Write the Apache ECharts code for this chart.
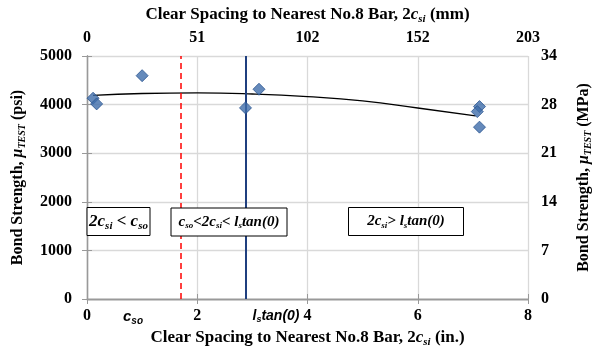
<!DOCTYPE html>
<html>
<head>
<meta charset="utf-8">
<script src="https://cdn.jsdelivr.net/npm/echarts@6/dist/echarts.min.js"></script>
<style>
  html, body { margin: 0; padding: 0; background: #fff; }
  #chart { width: 600px; height: 349px; }
</style>
</head>
<body>
<div id="chart"></div>
<script>
// Measured bond strength (psi) against clear spacing 2c_si (in.)
const spacingIn = [0.11, 0.175, 1.0, 2.875, 3.12, 7.12, 7.08, 7.12];
const bondPsi   = [4131, 4014, 4595, 3932, 4316, 3959, 3856, 3536];

// Fitted trend through the tests (in., psi)
const trendIn  = [0.11, 1.0, 2.0, 3.0, 4.0, 5.0, 6.0, 7.05];
const trendPsi = [4188, 4228, 4240, 4218, 4164, 4075, 3930, 3768];

// Limits: c_so (dashed) and l_s tan(θ) (solid), in inches
const csoIn = 1.70;
const lsTanIn = 2.875;

// Secondary tick labels (SI units)
const mmTicks  = ['0', '51', '102', '152', '203'];
const mpaTicks = ['0', '7', '14', '21', '28', '34'];

const serif = "'Liberation Serif', 'Times New Roman', serif";
const sans = "'Liberation Sans', Arial, sans-serif";

const subRich = {
  b: { fontFamily: serif, fontWeight: 'bold', fontSize: 17, color: '#000' },
  i: { fontFamily: serif, fontWeight: 'bold', fontStyle: 'italic', fontSize: 17, color: '#000' },
  s: { fontFamily: serif, fontWeight: 'bold', fontStyle: 'italic', fontSize: 11, color: '#000', padding: [9, 0, 0, 0] }
};
const subRichV = {
  b: { fontFamily: serif, fontWeight: 'bold', fontSize: 16, color: '#000' },
  i: { fontFamily: serif, fontWeight: 'bold', fontStyle: 'italic', fontSize: 16, color: '#000' },
  s: { fontFamily: serif, fontWeight: 'bold', fontStyle: 'italic', fontSize: 10, color: '#000', padding: [9, 0, 0, 0] }
};

const tickFont = { fontFamily: serif, fontWeight: 'bold', fontSize: 16, color: '#000' };

function boxRich(size) {
  return {
    i: { fontFamily: serif, fontWeight: 'bold', fontStyle: 'italic', fontSize: size, fill: '#000' },
    s: { fontFamily: serif, fontWeight: 'bold', fontStyle: 'italic', fontSize: Math.round(size * 0.62), fill: '#000', padding: [Math.round(size * 0.55), 0, 0, 0] }
  };
}

// Opaque annotation box with centred rich text
function textBox(cx, cy, w, h, text, size) {
  return {
    type: 'group',
    x: cx, y: cy,
    children: [
      { type: 'rect', z: 100, shape: { x: -w / 2, y: -h / 2, width: w, height: h },
        style: { fill: '#fff', stroke: '#000', lineWidth: 1 } },
      { type: 'text', z: 101, x: 0, y: 0,
        style: { text: text, rich: boxRich(size), align: 'center', verticalAlign: 'middle' } }
    ]
  };
}

const chart = echarts.init(document.getElementById('chart'), null, { renderer: 'canvas' });

chart.setOption({
  animation: false,
  backgroundColor: '#fff',
  grid: { left: 87, right: 72, top: 56, bottom: 50, containLabel: false, outerBoundsMode: 'none' },
  xAxis: [
    {
      type: 'value', position: 'bottom', min: 0, max: 8, interval: 2,
      name: '{b|Clear Spacing to Nearest No.8 Bar, 2}{i|c}{s|si}{b| (in.)}',
      nameLocation: 'middle', nameGap: 26,
      nameTextStyle: { rich: subRich },
      axisLine: { lineStyle: { color: '#999', width: 1.3 } },
      axisTick: { show: true, length: 5, lineStyle: { color: '#999' } },
      axisLabel: Object.assign({ margin: 9 }, tickFont),
      splitLine: { show: true, lineStyle: { color: '#d9d9d9', width: 1.3 } }
    },
    {
      type: 'value', position: 'top', min: 0, max: 8, interval: 2,
      name: '{b|Clear Spacing to Nearest No.8 Bar, 2}{i|c}{s|si}{b| (mm)}',
      nameLocation: 'middle', nameGap: 29,
      nameTextStyle: { rich: subRich },
      axisLine: { lineStyle: { color: '#999', width: 1.3 } },
      axisTick: { show: true, length: 5, lineStyle: { color: '#999' } },
      axisLabel: Object.assign({ margin: 10, formatter: v => mmTicks[Math.round(v / 2)] }, tickFont),
      splitLine: { show: false }
    }
  ],
  yAxis: [
    {
      type: 'value', position: 'left', min: 0, max: 5000, interval: 1000,
      name: '{b|Bond Strength, }{i|μ}{s|TEST}{b| (psi)}',
      nameLocation: 'middle', nameGap: 60, nameRotate: 90,
      nameTextStyle: { rich: subRichV },
      axisLine: { show: true, lineStyle: { color: '#999', width: 1.3 } },
      axisTick: { show: true, length: 5, lineStyle: { color: '#999' } },
      axisLabel: Object.assign({ margin: 15, formatter: v => String(v) }, tickFont),
      splitLine: { show: true, lineStyle: { color: '#d9d9d9', width: 1.3 } }
    },
    {
      type: 'value', position: 'right', min: 0, max: 5000, interval: 1000,
      name: '{b|Bond Strength, }{i|μ}{s|TEST}{b| (MPa)}',
      nameLocation: 'middle', nameGap: 46, nameRotate: 90,
      nameTextStyle: { rich: subRichV },
      axisLine: { show: true, lineStyle: { color: '#999', width: 1.3 } },
      axisTick: { show: true, length: 5, lineStyle: { color: '#999' } },
      axisLabel: Object.assign({ margin: 13, formatter: v => mpaTicks[Math.round(v / 1000)] }, tickFont),
      splitLine: { show: false }
    }
  ],
  series: [
    {
      name: 'Trend', type: 'line', xAxisIndex: 0, yAxisIndex: 0,
      data: trendIn.map((x, k) => [x, trendPsi[k]]),
      smooth: true, symbol: 'none',
      lineStyle: { color: '#000', width: 1.3 },
      z: 3
    },
    {
      name: 'Limits', type: 'line', xAxisIndex: 0, yAxisIndex: 0,
      data: [], symbol: 'none',
      markLine: {
        silent: true, symbol: 'none', label: { show: false },
        data: [
          { xAxis: csoIn, lineStyle: { color: '#ff0000', type: [6, 4], width: 1.5 } },
          { xAxis: lsTanIn, lineStyle: { color: '#1f3f7f', type: 'solid', width: 2 } }
        ]
      },
      z: 2
    },
    {
      name: 'Tests', type: 'scatter', xAxisIndex: 0, yAxisIndex: 0,
      data: spacingIn.map((x, k) => [x, bondPsi[k]]),
      symbol: 'diamond', symbolSize: 12,
      itemStyle: { color: '#3F6DAA', borderColor: '#2A5590', borderWidth: 1 },
      z: 5
    }
  ],
  graphic: [
    textBox(118.5, 221.5, 63, 28, '{i|2c}{s|si}{i| < c}{s|so}', 17),
    textBox(229, 222, 116, 28, '{i|c}{s|so}{i|<2c}{s|si}{i|< l}{s|s}{i|tan(0)}', 15),
    textBox(406, 221.5, 115, 28, '{i|2c}{s|si}{i|> l}{s|s}{i|tan(0)}', 15),
    { type: 'text', x: 133, y: 317, style: {
        text: '{a|c}{b|so}', align: 'center', verticalAlign: 'middle',
        rich: { a: { fontFamily: sans, fontWeight: 'bold', fontStyle: 'italic', fontSize: 15, fill: '#000' },
                b: { fontFamily: sans, fontWeight: 'bold', fontStyle: 'italic', fontSize: 10, fill: '#000', padding: [8, 0, 0, 0] } } } },
    { type: 'text', x: 276, y: 316, style: {
        text: '{a|l}{b|s}{a|tan(0)}', align: 'center', verticalAlign: 'middle',
        rich: { a: { fontFamily: sans, fontWeight: 'bold', fontStyle: 'italic', fontSize: 14, fill: '#000' },
                b: { fontFamily: sans, fontWeight: 'bold', fontStyle: 'italic', fontSize: 9, fill: '#000', padding: [8, 0, 0, 0] } } } }
  ]
});
</script>
</body>
</html>
